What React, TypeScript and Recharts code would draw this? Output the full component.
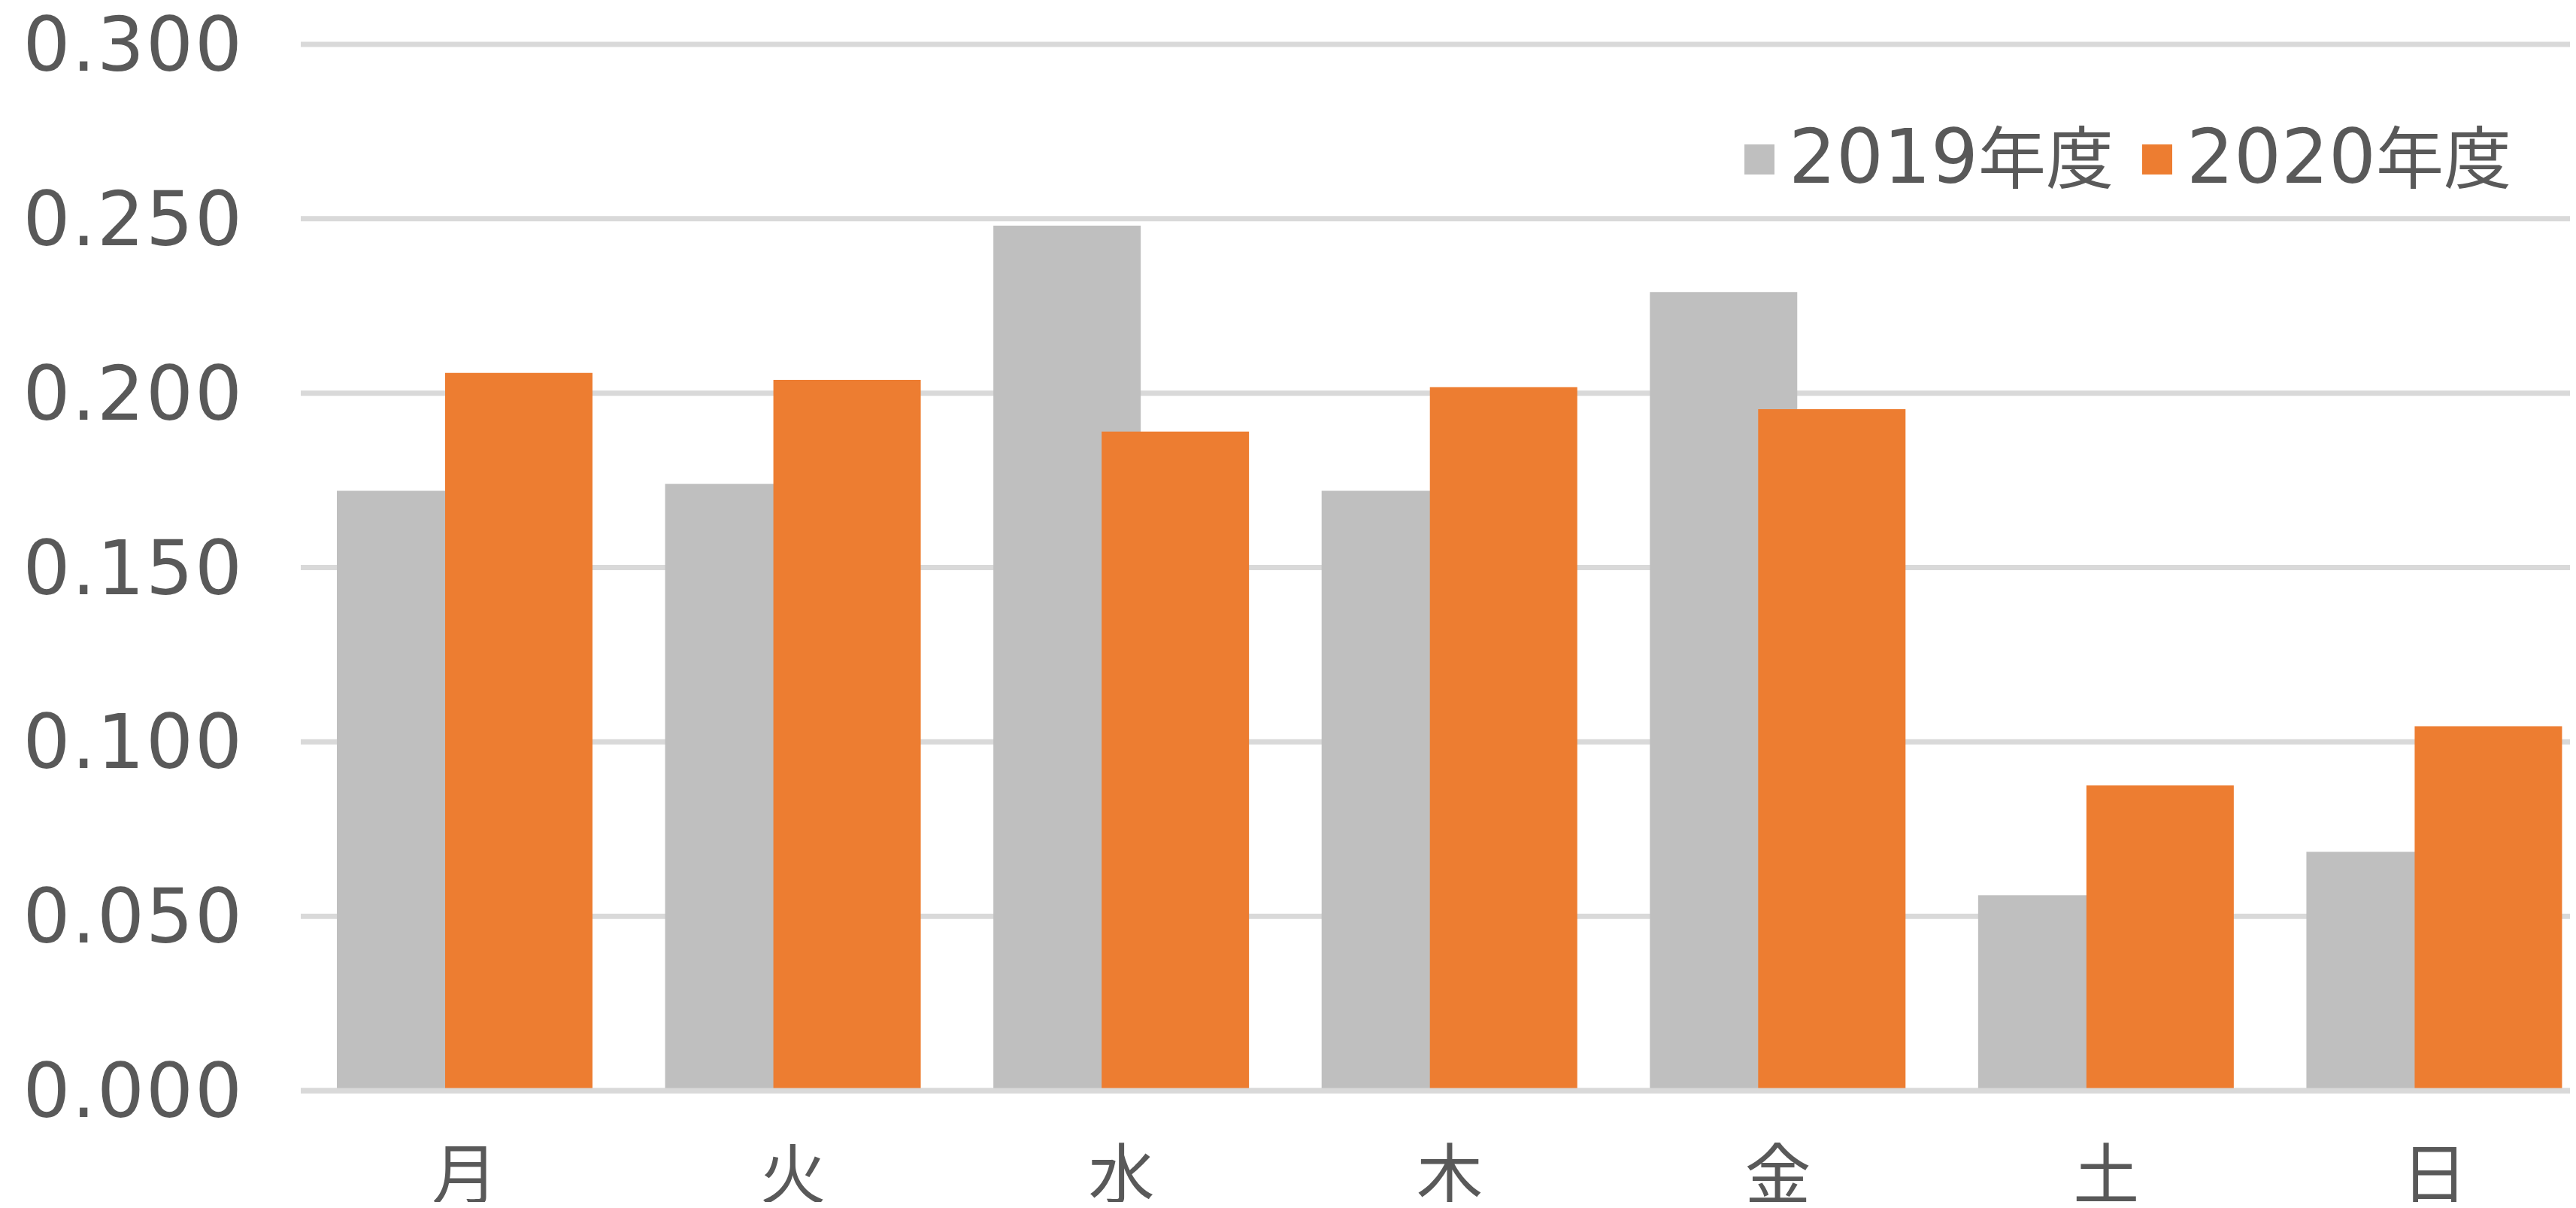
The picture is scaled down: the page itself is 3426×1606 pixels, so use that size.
import React from 'react';
import { BarChart, Bar, XAxis, YAxis, CartesianGrid, Legend, ReferenceLine } from 'recharts';

const days = ['月', '火', '水', '木', '金', '土', '日'];
const fy2019 = [0.172, 0.174, 0.248, 0.172, 0.229, 0.056, 0.0685];
const fy2020 = [0.2058, 0.2038, 0.189, 0.2017, 0.1954, 0.0875, 0.1045];
const seriesNames = ['2019年度', '2020年度'];
const seriesColors = ['#BFBFBF', '#ED7D31'];
const yTicks = [0, 0.05, 0.1, 0.15, 0.2, 0.25, 0.3];

const data = days.map((d, i) => ({ day: d, s2019: fy2019[i], s2020: fy2020[i] }));

const TEXT = '#595959';
const legendX = [20, 549];

const YTick = (props: any) => {
  const { x, y, payload } = props;
  return (
    <text
      x={x}
      y={y}
      dy="0.355em"
      textAnchor="end"
      fill={TEXT}
      fontFamily="DejaVu Sans"
      fontSize={99}
      style={{ letterSpacing: '2px' }}
    >
      {Number(payload.value).toFixed(3)}
    </text>
  );
};

const XTick = (props: any) => {
  const { x, y, payload } = props;
  return (
    <text x={x} y={y} dy="0.71em" textAnchor="middle" fill={TEXT} fontFamily="'Noto Sans CJK JP'" fontSize={88}>
      {payload.value}
    </text>
  );
};

const renderLegend = (props: any) => {
  const payload = props.payload || [];
  return (
    <svg width={1126} height={250} style={{ display: 'block' }}>
      {payload.map((p: any, i: number) => {
        const name = String(p.value);
        const m = name.match(/^(\d+)(.*)$/);
        const num = m ? m[1] : name;
        const rest = m ? m[2] : '';
        return (
          <g key={name}>
            <rect x={legendX[i]} y={92} width={40} height={40} fill={p.color} />
            <text x={legendX[i] + 59} y={143} fill={TEXT} fontFamily="DejaVu Sans" fontSize={99}>
              <tspan>{num}</tspan>
              <tspan fontFamily="'Noto Sans CJK JP'" fontSize={90}>{rest}</tspan>
            </text>
          </g>
        );
      })}
    </svg>
  );
};

export default function App() {
  return (
    <div style={{ margin: '-8px', width: 3426, height: 1606, overflow: 'hidden', background: '#fff', position: 'relative' }}>
      <BarChart
        width={3456}
        height={1606}
        data={data}
        margin={{ top: 59, right: 0, bottom: 0, left: 0 }}
        barGap={-52}
      >
        <CartesianGrid vertical={false} stroke="#D9D9D9" strokeWidth={7} />
        <XAxis
          dataKey="day"
          height={156}
          axisLine={false}
          tickLine={false}
          tickSize={0}
          tickMargin={81}
          tick={<XTick />}
          interval={0}
        />
        <YAxis
          type="number"
          domain={[0, 0.3]}
          ticks={yTicks}
          width={400}
          axisLine={false}
          tickLine={false}
          tickSize={0}
          tickMargin={76}
          tick={<YTick />}
          interval={0}
        />
        <Legend
          layout="horizontal"
          verticalAlign="middle"
          align="center"
          content={renderLegend}
          wrapperStyle={{ top: 100, left: 2300, width: 1126, height: 250 }}
        />
        <Bar dataKey="s2019" name={seriesNames[0]} fill={seriesColors[0]} barSize={196} isAnimationActive={false} />
        <Bar dataKey="s2020" name={seriesNames[1]} fill={seriesColors[1]} barSize={196} isAnimationActive={false} />
        <ReferenceLine y={0} stroke="#D9D9D9" strokeWidth={7} />
      </BarChart>
    </div>
  );
}
